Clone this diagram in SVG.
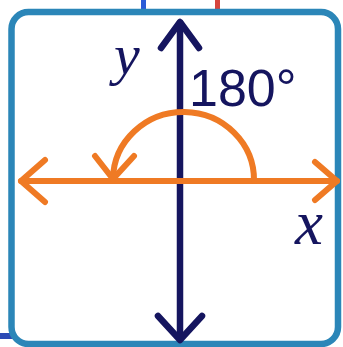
<svg xmlns="http://www.w3.org/2000/svg" width="343" height="347" viewBox="0 0 343 347">
  <defs>
    <style>
      .navy { stroke: #15155f; stroke-width: 6.5; fill: none; stroke-linecap: round; stroke-linejoin: round; }
      .orange { stroke: #ef7a24; stroke-width: 6; fill: none; stroke-linecap: round; stroke-linejoin: round; }
      .label { font-family: "Liberation Serif", "Times New Roman", serif; font-style: italic; fill: #15155f; }
      .angle { font-family: "Liberation Sans", Arial, sans-serif; fill: #15155f; }
    </style>
  </defs>
  <rect width="343" height="347" fill="#ffffff"/>
  <g id="ticks">
    <line x1="143.5" y1="0" x2="143.5" y2="10" stroke="#2a5bd7" stroke-width="5"/>
    <line x1="217.5" y1="0" x2="217.5" y2="10" stroke="#d6453d" stroke-width="5"/>
    <line x1="0" y1="336" x2="14" y2="336" stroke="#2c4bb5" stroke-width="6"/>
  </g>
  <g id="frame">
    <rect x="11.5" y="12" width="326.5" height="332" rx="17" ry="17" fill="#ffffff" stroke="#2b86b8" stroke-width="6.5"/>
  </g>
  <g id="connectors">
    <g id="y-axis">
      <line class="navy" x1="180" y1="23" x2="180" y2="338"/>
      <polyline class="navy" points="161,48 180,22 199,48"/>
      <polyline class="navy" points="158,316 180,340 202,316"/>
    </g>
    <g id="x-axis">
      <line class="orange" x1="21" y1="181" x2="337" y2="181"/>
      <polyline class="orange" points="45,160 21,181 45,202"/>
      <polyline class="orange" points="315,162 337,181 315,200"/>
    </g>
    <g id="angle-arc">
      <path class="orange" d="M 254 181 A 70.5 68 0 0 0 113 179"/>
      <polyline class="orange" points="95,156 113,179 134,156"/>
    </g>
  </g>
  <g id="labels">
    <text class="label" x="114" y="74" font-size="58">y</text>
    <text class="label" x="295" y="244" font-size="63">x</text>
    <text class="angle" x="189" y="106" font-size="52">180°</text>
  </g>
</svg>
